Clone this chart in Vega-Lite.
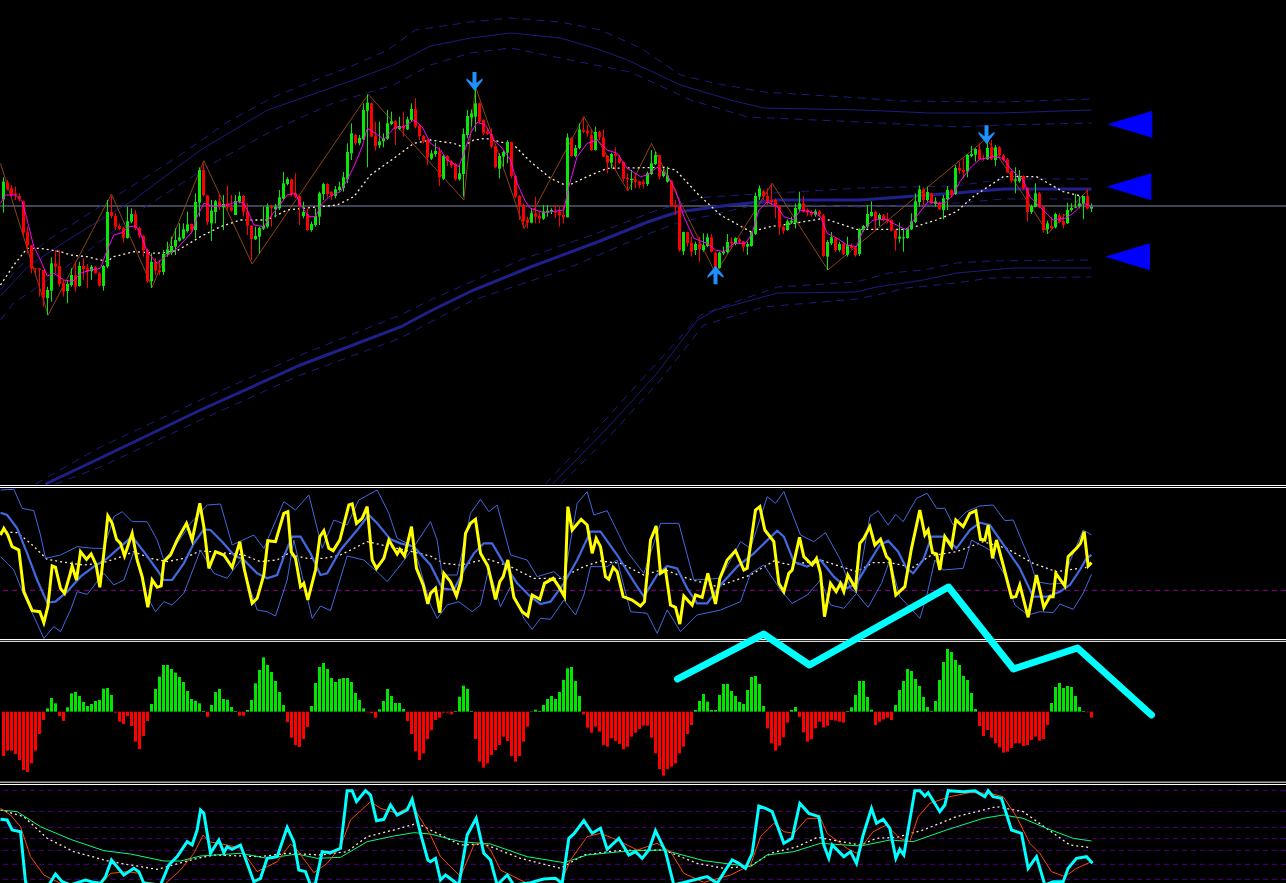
{"$schema":"https://vega.github.io/schema/vega-lite/v6.json","background":"#000000","padding":0,"spacing":0,"bounds":"flush","config":{"view":{"stroke":null},"scale":{"continuousPadding":0}},
"datasets":{
"bars":[{"t":9,"o":882,"h":948,"l":842,"c":935,"m":-133},{"t":21,"o":933,"h":940,"l":908,"c":912,"m":-117},{"t":33,"o":915,"h":925,"l":890,"c":895,"m":-117},{"t":45,"o":900,"h":920,"l":880,"c":895,"m":-127},{"t":57,"o":892,"h":900,"l":875,"c":884,"m":-145},{"t":69,"o":876,"h":878,"l":770,"c":782,"m":-175},{"t":81,"o":783,"h":800,"l":720,"c":744,"m":-181},{"t":93,"o":744,"h":745,"l":660,"c":674,"m":-155},{"t":105,"o":675,"h":675,"l":660,"c":672,"m":-117},{"t":117,"o":674,"h":675,"l":590,"c":670,"m":-67},{"t":129,"o":670,"h":670,"l":560,"c":588,"m":-25},{"t":141,"o":586,"h":620,"l":535,"c":610,"m":10},{"t":153,"o":608,"h":708,"l":575,"c":690,"m":41},{"t":165,"o":690,"h":730,"l":660,"c":680,"m":25},{"t":177,"o":682,"h":730,"l":620,"c":628,"m":-13},{"t":189,"o":630,"h":640,"l":590,"c":605,"m":-28},{"t":201,"o":607,"h":640,"l":570,"c":628,"m":13},{"t":213,"o":625,"h":675,"l":620,"c":655,"m":55},{"t":225,"o":654,"h":695,"l":605,"c":620,"m":59},{"t":237,"o":622,"h":695,"l":620,"c":682,"m":47},{"t":249,"o":682,"h":705,"l":640,"c":672,"m":29},{"t":261,"o":675,"h":688,"l":615,"c":665,"m":17},{"t":273,"o":666,"h":685,"l":640,"c":680,"m":23},{"t":285,"o":678,"h":682,"l":660,"c":660,"m":32},{"t":297,"o":660,"h":665,"l":620,"c":623,"m":35},{"t":309,"o":622,"h":685,"l":608,"c":682,"m":69},{"t":321,"o":680,"h":880,"l":675,"c":844,"m":71},{"t":333,"o":844,"h":892,"l":825,"c":832,"m":50},{"t":345,"o":832,"h":840,"l":790,"c":800,"m":-3},{"t":357,"o":802,"h":810,"l":790,"c":793,"m":-30},{"t":369,"o":795,"h":800,"l":752,"c":767,"m":-37},{"t":381,"o":766,"h":860,"l":764,"c":816,"m":-13},{"t":393,"o":815,"h":855,"l":810,"c":838,"m":-43},{"t":405,"o":838,"h":850,"l":790,"c":796,"m":-90},{"t":417,"o":796,"h":800,"l":765,"c":773,"m":-112},{"t":429,"o":772,"h":775,"l":710,"c":730,"m":-73},{"t":441,"o":730,"h":735,"l":632,"c":636,"m":-28},{"t":453,"o":636,"h":720,"l":616,"c":694,"m":23},{"t":465,"o":694,"h":705,"l":655,"c":668,"m":68},{"t":477,"o":670,"h":700,"l":655,"c":664,"m":105},{"t":489,"o":664,"h":730,"l":655,"c":718,"m":140},{"t":501,"o":718,"h":755,"l":710,"c":732,"m":140},{"t":513,"o":722,"h":770,"l":715,"c":742,"m":128},{"t":525,"o":740,"h":795,"l":715,"c":760,"m":117},{"t":537,"o":758,"h":810,"l":755,"c":768,"m":104},{"t":549,"o":765,"h":810,"l":762,"c":792,"m":89},{"t":561,"o":787,"h":845,"l":782,"c":807,"m":62},{"t":573,"o":808,"h":810,"l":780,"c":790,"m":38},{"t":585,"o":790,"h":900,"l":765,"c":874,"m":33},{"t":597,"o":872,"h":978,"l":830,"c":970,"m":25},{"t":609,"o":970,"h":990,"l":890,"c":894,"m":2},{"t":621,"o":894,"h":895,"l":805,"c":814,"m":-16},{"t":633,"o":810,"h":880,"l":757,"c":848,"m":20},{"t":645,"o":844,"h":880,"l":810,"c":876,"m":59},{"t":657,"o":876,"h":900,"l":850,"c":862,"m":68},{"t":669,"o":858,"h":895,"l":790,"c":868,"m":38},{"t":681,"o":870,"h":924,"l":850,"c":858,"m":36},{"t":693,"o":858,"h":895,"l":845,"c":848,"m":14},{"t":705,"o":835,"h":895,"l":835,"c":877,"m":2},{"t":717,"o":875,"h":905,"l":870,"c":892,"m":-12},{"t":729,"o":892,"h":895,"l":830,"c":845,"m":-12},{"t":741,"o":846,"h":870,"l":775,"c":803,"m":5},{"t":753,"o":803,"h":805,"l":700,"c":763,"m":35},{"t":765,"o":762,"h":800,"l":760,"c":772,"m":85},{"t":777,"o":770,"h":800,"l":720,"c":797,"m":125},{"t":789,"o":794,"h":860,"l":790,"c":802,"m":163},{"t":801,"o":800,"h":870,"l":795,"c":860,"m":140},{"t":813,"o":860,"h":865,"l":800,"c":855,"m":119},{"t":825,"o":852,"h":868,"l":828,"c":860,"m":92},{"t":837,"o":855,"h":910,"l":850,"c":888,"m":59},{"t":849,"o":884,"h":964,"l":880,"c":930,"m":20},{"t":861,"o":928,"h":948,"l":924,"c":943,"m":-31},{"t":873,"o":942,"h":945,"l":890,"c":897,"m":-78},{"t":885,"o":900,"h":960,"l":885,"c":890,"m":-100},{"t":897,"o":892,"h":895,"l":805,"c":862,"m":-106},{"t":909,"o":832,"h":875,"l":825,"c":844,"m":-82},{"t":921,"o":838,"h":855,"l":788,"c":790,"m":-46},{"t":933,"o":790,"h":815,"l":785,"c":808,"m":17},{"t":945,"o":805,"h":855,"l":800,"c":832,"m":86},{"t":957,"o":830,"h":905,"l":805,"c":900,"m":134},{"t":969,"o":898,"h":932,"l":880,"c":928,"m":146},{"t":981,"o":928,"h":930,"l":890,"c":898,"m":128},{"t":993,"o":904,"h":906,"l":880,"c":895,"m":101},{"t":1005,"o":892,"h":922,"l":885,"c":912,"m":89},{"t":1017,"o":910,"h":935,"l":905,"c":920,"m":98},{"t":1029,"o":916,"h":964,"l":905,"c":948,"m":101},{"t":1041,"o":942,"h":1050,"l":930,"c":1024,"m":101},{"t":1053,"o":1020,"h":1110,"l":1000,"c":1080,"m":89},{"t":1065,"o":1075,"h":1078,"l":1045,"c":1050,"m":56},{"t":1077,"o":1050,"h":1075,"l":1044,"c":1066,"m":35},{"t":1089,"o":1062,"h":1170,"l":1060,"c":1150,"m":10},{"t":1101,"o":1148,"h":1197,"l":978,"c":1172,"m":-2},{"t":1113,"o":1170,"h":1172,"l":1068,"c":1070,"m":-4},{"t":1125,"o":1072,"h":1115,"l":1028,"c":1042,"m":-18},{"t":1137,"o":1044,"h":1115,"l":1035,"c":1056,"m":7},{"t":1149,"o":1056,"h":1080,"l":1038,"c":1066,"m":32},{"t":1161,"o":1064,"h":1150,"l":1060,"c":1110,"m":68},{"t":1173,"o":1108,"h":1145,"l":1105,"c":1116,"m":47},{"t":1185,"o":1116,"h":1120,"l":1045,"c":1094,"m":26},{"t":1197,"o":1093,"h":1130,"l":1090,"c":1102,"m":26},{"t":1209,"o":1102,"h":1145,"l":1070,"c":1094,"m":8},{"t":1221,"o":1092,"h":1130,"l":1090,"c":1122,"m":-28},{"t":1233,"o":1120,"h":1170,"l":1115,"c":1153,"m":-67},{"t":1245,"o":1153,"h":1185,"l":1095,"c":1100,"m":-119},{"t":1257,"o":1102,"h":1105,"l":1060,"c":1072,"m":-145},{"t":1269,"o":1072,"h":1075,"l":1050,"c":1056,"m":-125},{"t":1281,"o":1060,"h":1062,"l":985,"c":1008,"m":-82},{"t":1293,"o":1004,"h":1030,"l":1000,"c":1020,"m":-55},{"t":1305,"o":1018,"h":1052,"l":1010,"c":1027,"m":-25},{"t":1317,"o":1026,"h":1038,"l":922,"c":948,"m":-18},{"t":1329,"o":944,"h":1015,"l":940,"c":1012,"m":-3},{"t":1341,"o":1012,"h":1015,"l":982,"c":997,"m":-3},{"t":1353,"o":996,"h":1000,"l":975,"c":984,"m":-8},{"t":1365,"o":987,"h":990,"l":938,"c":942,"m":2},{"t":1377,"o":942,"h":985,"l":938,"c":960,"m":45},{"t":1389,"o":958,"h":1095,"l":890,"c":1078,"m":78},{"t":1401,"o":1075,"h":1150,"l":1065,"c":1132,"m":68},{"t":1413,"o":1128,"h":1152,"l":1100,"c":1140,"m":2},{"t":1425,"o":1130,"h":1230,"l":1085,"c":1170,"m":-82},{"t":1437,"o":1170,"h":1172,"l":1110,"c":1115,"m":-150},{"t":1449,"o":1120,"h":1122,"l":1075,"c":1080,"m":-168},{"t":1461,"o":1085,"h":1095,"l":1075,"c":1078,"m":-155},{"t":1473,"o":1078,"h":1095,"l":1035,"c":1040,"m":-130},{"t":1485,"o":1042,"h":1042,"l":975,"c":978,"m":-115},{"t":1497,"o":974,"h":1020,"l":945,"c":1012,"m":-100},{"t":1509,"o":1010,"h":1030,"l":980,"c":1024,"m":-75},{"t":1521,"o":1022,"h":1060,"l":990,"c":1054,"m":-88},{"t":1533,"o":1054,"h":1055,"l":945,"c":952,"m":-133},{"t":1545,"o":952,"h":955,"l":885,"c":890,"m":-150},{"t":1557,"o":892,"h":895,"l":820,"c":862,"m":-133},{"t":1569,"o":864,"h":870,"l":795,"c":816,"m":-90},{"t":1581,"o":820,"h":830,"l":795,"c":812,"m":-45},{"t":1593,"o":812,"h":855,"l":810,"c":840,"m":1},{"t":1605,"o":840,"h":890,"l":810,"c":830,"m":6},{"t":1617,"o":832,"h":845,"l":810,"c":824,"m":2},{"t":1629,"o":824,"h":865,"l":820,"c":846,"m":20},{"t":1641,"o":842,"h":865,"l":830,"c":848,"m":38},{"t":1653,"o":844,"h":855,"l":838,"c":850,"m":47},{"t":1665,"o":846,"h":865,"l":825,"c":842,"m":38},{"t":1677,"o":844,"h":860,"l":800,"c":834,"m":59},{"t":1689,"o":835,"h":865,"l":810,"c":828,"m":95},{"t":1701,"o":828,"h":1080,"l":828,"c":1068,"m":130},{"t":1713,"o":1066,"h":1068,"l":1010,"c":1012,"m":134},{"t":1725,"o":1012,"h":1045,"l":1008,"c":1036,"m":92},{"t":1737,"o":1036,"h":1110,"l":1032,"c":1092,"m":47},{"t":1749,"o":1090,"h":1130,"l":1080,"c":1085,"m":-8},{"t":1761,"o":1088,"h":1105,"l":1070,"c":1080,"m":-48},{"t":1773,"o":1075,"h":1090,"l":1028,"c":1030,"m":-63},{"t":1785,"o":1030,"h":1100,"l":1028,"c":1084,"m":-45},{"t":1797,"o":1084,"h":1088,"l":1060,"c":1068,"m":-60},{"t":1809,"o":1068,"h":1092,"l":1008,"c":1010,"m":-100},{"t":1821,"o":1012,"h":1015,"l":960,"c":992,"m":-105},{"t":1833,"o":992,"h":1022,"l":975,"c":1018,"m":-80},{"t":1845,"o":1018,"h":1038,"l":970,"c":1012,"m":-88},{"t":1857,"o":1008,"h":1015,"l":988,"c":992,"m":-97},{"t":1869,"o":994,"h":995,"l":935,"c":944,"m":-113},{"t":1881,"o":946,"h":960,"l":908,"c":942,"m":-105},{"t":1893,"o":940,"h":970,"l":910,"c":944,"m":-75},{"t":1905,"o":942,"h":960,"l":915,"c":935,"m":-63},{"t":1917,"o":936,"h":938,"l":915,"c":925,"m":-52},{"t":1929,"o":935,"h":942,"l":915,"c":928,"m":-42},{"t":1941,"o":928,"h":965,"l":922,"c":960,"m":-42},{"t":1953,"o":958,"h":1030,"l":955,"c":990,"m":-78},{"t":1965,"o":988,"h":1025,"l":985,"c":1015,"m":-125},{"t":1977,"o":1014,"h":1016,"l":942,"c":950,"m":-172},{"t":1989,"o":952,"h":975,"l":948,"c":965,"m":-192},{"t":2001,"o":935,"h":980,"l":932,"c":954,"m":-172},{"t":2013,"o":938,"h":940,"l":860,"c":862,"m":-165},{"t":2025,"o":864,"h":880,"l":835,"c":858,"m":-155},{"t":2037,"o":860,"h":862,"l":725,"c":730,"m":-125},{"t":2049,"o":726,"h":785,"l":715,"c":784,"m":-105},{"t":2061,"o":784,"h":785,"l":740,"c":750,"m":-67},{"t":2073,"o":752,"h":770,"l":710,"c":725,"m":-40},{"t":2085,"o":730,"h":755,"l":715,"c":748,"m":5},{"t":2097,"o":748,"h":770,"l":695,"c":732,"m":32},{"t":2109,"o":730,"h":780,"l":725,"c":744,"m":53},{"t":2121,"o":742,"h":780,"l":738,"c":768,"m":30},{"t":2133,"o":768,"h":778,"l":722,"c":725,"m":5},{"t":2145,"o":722,"h":725,"l":660,"c":676,"m":5},{"t":2157,"o":676,"h":725,"l":674,"c":722,"m":50},{"t":2169,"o":720,"h":740,"l":715,"c":726,"m":83},{"t":2181,"o":724,"h":778,"l":720,"c":754,"m":83},{"t":2193,"o":755,"h":768,"l":735,"c":750,"m":62},{"t":2205,"o":748,"h":768,"l":744,"c":766,"m":47},{"t":2217,"o":762,"h":767,"l":752,"c":754,"m":29},{"t":2229,"o":756,"h":757,"l":725,"c":740,"m":23},{"t":2241,"o":740,"h":755,"l":715,"c":748,"m":65},{"t":2253,"o":742,"h":785,"l":740,"c":784,"m":104},{"t":2265,"o":778,"h":902,"l":775,"c":892,"m":107},{"t":2277,"o":890,"h":924,"l":880,"c":915,"m":83},{"t":2289,"o":906,"h":910,"l":880,"c":892,"m":17},{"t":2301,"o":892,"h":915,"l":865,"c":876,"m":-50},{"t":2313,"o":880,"h":930,"l":860,"c":874,"m":-95},{"t":2325,"o":880,"h":885,"l":825,"c":860,"m":-117},{"t":2337,"o":862,"h":865,"l":775,"c":798,"m":-102},{"t":2349,"o":800,"h":802,"l":778,"c":788,"m":-77},{"t":2361,"o":790,"h":822,"l":788,"c":816,"m":-33},{"t":2373,"o":812,"h":830,"l":808,"c":818,"m":5},{"t":2385,"o":812,"h":870,"l":795,"c":856,"m":14},{"t":2397,"o":852,"h":905,"l":845,"c":870,"m":-16},{"t":2409,"o":870,"h":892,"l":842,"c":845,"m":-62},{"t":2421,"o":850,"h":855,"l":832,"c":842,"m":-90},{"t":2433,"o":844,"h":850,"l":830,"c":836,"m":-83},{"t":2445,"o":836,"h":852,"l":830,"c":846,"m":-50},{"t":2457,"o":846,"h":850,"l":830,"c":836,"m":-30},{"t":2469,"o":834,"h":838,"l":708,"c":712,"m":-47},{"t":2481,"o":710,"h":760,"l":670,"c":754,"m":-42},{"t":2493,"o":750,"h":784,"l":745,"c":768,"m":-25},{"t":2505,"o":765,"h":770,"l":725,"c":730,"m":-27},{"t":2517,"o":730,"h":755,"l":725,"c":748,"m":-30},{"t":2529,"o":748,"h":750,"l":715,"c":718,"m":-33},{"t":2541,"o":716,"h":770,"l":710,"c":744,"m":2},{"t":2553,"o":742,"h":750,"l":732,"c":736,"m":13},{"t":2565,"o":738,"h":740,"l":710,"c":715,"m":50},{"t":2577,"o":718,"h":795,"l":712,"c":792,"m":92},{"t":2589,"o":790,"h":805,"l":785,"c":802,"m":92},{"t":2601,"o":800,"h":865,"l":795,"c":838,"m":44},{"t":2613,"o":832,"h":876,"l":830,"c":844,"m":6},{"t":2625,"o":844,"h":848,"l":790,"c":822,"m":-40},{"t":2637,"o":822,"h":840,"l":802,"c":835,"m":-30},{"t":2649,"o":834,"h":838,"l":815,"c":820,"m":-23},{"t":2661,"o":822,"h":842,"l":810,"c":816,"m":-18},{"t":2673,"o":820,"h":822,"l":785,"c":788,"m":-25},{"t":2685,"o":790,"h":792,"l":728,"c":764,"m":20},{"t":2697,"o":764,"h":812,"l":752,"c":770,"m":65},{"t":2709,"o":765,"h":796,"l":725,"c":768,"m":92},{"t":2721,"o":766,"h":797,"l":764,"c":795,"m":128},{"t":2733,"o":792,"h":840,"l":790,"c":816,"m":122},{"t":2745,"o":814,"h":900,"l":810,"c":876,"m":98},{"t":2757,"o":874,"h":924,"l":860,"c":912,"m":77},{"t":2769,"o":912,"h":918,"l":865,"c":880,"m":44},{"t":2781,"o":880,"h":920,"l":875,"c":904,"m":14},{"t":2793,"o":900,"h":902,"l":868,"c":870,"m":2},{"t":2805,"o":868,"h":888,"l":860,"c":876,"m":32},{"t":2817,"o":872,"h":875,"l":850,"c":852,"m":95},{"t":2829,"o":850,"h":895,"l":822,"c":885,"m":149},{"t":2841,"o":882,"h":922,"l":850,"c":910,"m":188},{"t":2853,"o":910,"h":912,"l":888,"c":896,"m":179},{"t":2865,"o":898,"h":985,"l":895,"c":976,"m":155},{"t":2877,"o":976,"h":994,"l":958,"c":968,"m":140},{"t":2889,"o":970,"h":1005,"l":945,"c":965,"m":107},{"t":2901,"o":965,"h":1018,"l":948,"c":1015,"m":95},{"t":2913,"o":1012,"h":1042,"l":1008,"c":1018,"m":56},{"t":2925,"o":1016,"h":1035,"l":995,"c":1033,"m":8},{"t":2937,"o":1032,"h":1050,"l":1000,"c":1002,"m":-43},{"t":2949,"o":1006,"h":1016,"l":998,"c":1002,"m":-73},{"t":2961,"o":1002,"h":1065,"l":1000,"c":1036,"m":-55},{"t":2973,"o":1038,"h":1060,"l":1000,"c":1002,"m":-78},{"t":2985,"o":1000,"h":1045,"l":982,"c":1038,"m":-95},{"t":2997,"o":1038,"h":1042,"l":1010,"c":1015,"m":-107},{"t":3009,"o":1014,"h":1018,"l":995,"c":1000,"m":-123},{"t":3021,"o":1002,"h":1006,"l":960,"c":964,"m":-120},{"t":3033,"o":966,"h":968,"l":932,"c":938,"m":-109},{"t":3045,"o":938,"h":978,"l":900,"c":942,"m":-95},{"t":3057,"o":936,"h":970,"l":932,"c":952,"m":-95},{"t":3069,"o":952,"h":954,"l":910,"c":915,"m":-103},{"t":3081,"o":916,"h":918,"l":816,"c":844,"m":-100},{"t":3093,"o":844,"h":866,"l":838,"c":862,"m":-85},{"t":3105,"o":860,"h":930,"l":858,"c":900,"m":-75},{"t":3117,"o":900,"h":904,"l":855,"c":858,"m":-87},{"t":3129,"o":860,"h":862,"l":782,"c":790,"m":-82},{"t":3141,"o":792,"h":818,"l":778,"c":810,"m":-40},{"t":3153,"o":802,"h":828,"l":792,"c":796,"m":26},{"t":3165,"o":798,"h":842,"l":795,"c":838,"m":74},{"t":3177,"o":834,"h":840,"l":810,"c":814,"m":86},{"t":3189,"o":816,"h":838,"l":795,"c":805,"m":71},{"t":3201,"o":810,"h":872,"l":808,"c":850,"m":77},{"t":3213,"o":850,"h":870,"l":845,"c":856,"m":74},{"t":3225,"o":856,"h":898,"l":855,"c":858,"m":47},{"t":3237,"o":860,"h":892,"l":855,"c":870,"m":14},{"t":3249,"o":868,"h":892,"l":822,"c":892,"m":2},{"t":3261,"o":892,"h":912,"l":852,"c":854,"m":-2},{"t":3273,"o":854,"h":870,"l":844,"c":860,"m":-18}],
"magenta":[{"t":0,"v":870},{"t":15,"v":895},{"t":45,"v":895},{"t":65,"v":875},{"t":80,"v":820},{"t":100,"v":740},{"t":120,"v":700},{"t":140,"v":652},{"t":160,"v":660},{"t":190,"v":640},{"t":215,"v":635},{"t":240,"v":660},{"t":270,"v":670},{"t":300,"v":675},{"t":320,"v":730},{"t":340,"v":775},{"t":365,"v":782},{"t":385,"v":800},{"t":405,"v":802},{"t":420,"v":780},{"t":440,"v":725},{"t":470,"v":690},{"t":495,"v":710},{"t":530,"v":735},{"t":575,"v":785},{"t":590,"v":830},{"t":610,"v":870},{"t":640,"v":860},{"t":680,"v":865},{"t":710,"v":875},{"t":730,"v":870},{"t":745,"v":840},{"t":760,"v":805},{"t":790,"v":800},{"t":810,"v":830},{"t":830,"v":855},{"t":860,"v":895},{"t":885,"v":900},{"t":900,"v":865},{"t":925,"v":830},{"t":945,"v":830},{"t":965,"v":870},{"t":985,"v":890},{"t":1020,"v":905},{"t":1040,"v":940},{"t":1060,"v":980},{"t":1085,"v":1040},{"t":1100,"v":1095},{"t":1125,"v":1080},{"t":1150,"v":1062},{"t":1180,"v":1095},{"t":1210,"v":1100},{"t":1240,"v":1120},{"t":1265,"v":1100},{"t":1290,"v":1050},{"t":1320,"v":1030},{"t":1340,"v":1000},{"t":1375,"v":980},{"t":1390,"v":1020},{"t":1410,"v":1080},{"t":1430,"v":1113},{"t":1455,"v":1105},{"t":1480,"v":1060},{"t":1505,"v":1035},{"t":1530,"v":1000},{"t":1550,"v":930},{"t":1575,"v":875},{"t":1590,"v":855},{"t":1630,"v":842},{"t":1690,"v":850},{"t":1705,"v":920},{"t":1730,"v":1010},{"t":1760,"v":1050},{"t":1790,"v":1060},{"t":1820,"v":1030},{"t":1850,"v":1020},{"t":1880,"v":975},{"t":1920,"v":950},{"t":1940,"v":955},{"t":1970,"v":978},{"t":2000,"v":955},{"t":2025,"v":910},{"t":2050,"v":830},{"t":2080,"v":765},{"t":2120,"v":750},{"t":2145,"v":730},{"t":2170,"v":725},{"t":2200,"v":750},{"t":2235,"v":750},{"t":2255,"v":780},{"t":2275,"v":850},{"t":2300,"v":875},{"t":2330,"v":860},{"t":2350,"v":830},{"t":2380,"v":820},{"t":2400,"v":850},{"t":2440,"v":842},{"t":2460,"v":830},{"t":2480,"v":780},{"t":2510,"v":765},{"t":2540,"v":745},{"t":2568,"v":740},{"t":2588,"v":790},{"t":2618,"v":820},{"t":2658,"v":822},{"t":2678,"v":810},{"t":2718,"v":790},{"t":2743,"v":825},{"t":2783,"v":875},{"t":2808,"v":870},{"t":2833,"v":870},{"t":2858,"v":895},{"t":2878,"v":935},{"t":2913,"v":980},{"t":2938,"v":1002},{"t":2978,"v":1010},{"t":3008,"v":1005},{"t":3033,"v":970},{"t":3068,"v":940},{"t":3088,"v":890},{"t":3118,"v":860},{"t":3158,"v":820},{"t":3193,"v":825},{"t":3218,"v":840},{"t":3248,"v":870},{"t":3278,"v":860}],
"maSlow":[{"t":0,"v":625},{"t":40,"v":685},{"t":80,"v":735},{"t":120,"v":735},{"t":180,"v":725},{"t":210,"v":715},{"t":260,"v":710},{"t":320,"v":695},{"t":340,"v":710},{"t":400,"v":725},{"t":470,"v":720},{"t":530,"v":728},{"t":600,"v":770},{"t":660,"v":800},{"t":720,"v":820},{"t":800,"v":820},{"t":860,"v":850},{"t":960,"v":860},{"t":1010,"v":865},{"t":1060,"v":890},{"t":1110,"v":955},{"t":1180,"v":1005},{"t":1240,"v":1050},{"t":1290,"v":1060},{"t":1360,"v":1050},{"t":1385,"v":1040},{"t":1420,"v":1060},{"t":1455,"v":1065},{"t":1540,"v":1045},{"t":1590,"v":995},{"t":1650,"v":945},{"t":1700,"v":922},{"t":1760,"v":950},{"t":1820,"v":975},{"t":1990,"v":978},{"t":2025,"v":970},{"t":2090,"v":900},{"t":2160,"v":835},{"t":2250,"v":785},{"t":2310,"v":800},{"t":2380,"v":810},{"t":2470,"v":825},{"t":2568,"v":792},{"t":2718,"v":792},{"t":2808,"v":820},{"t":2868,"v":845},{"t":2918,"v":890},{"t":3008,"v":950},{"t":3108,"v":950},{"t":3188,"v":905},{"t":3258,"v":888}],
"zigzag":[{"t":0,"v":990},{"t":143,"v":535},{"t":333,"v":898},{"t":455,"v":618},{"t":610,"v":998},{"t":755,"v":688},{"t":1103,"v":1197},{"t":1390,"v":880},{"t":1425,"v":1220},{"t":1571,"v":795},{"t":1750,"v":1130},{"t":1882,"v":907},{"t":1953,"v":1050},{"t":2145,"v":660},{"t":2315,"v":930},{"t":2482,"v":670},{"t":2958,"v":1065},{"t":3143,"v":780},{"t":3263,"v":912}],
"bandDash":[{"s":1,"t":0,"v":610},{"s":1,"t":39,"v":661},{"s":1,"t":129,"v":751},{"s":1,"t":249,"v":829},{"s":1,"t":390,"v":919},{"s":1,"t":531,"v":1009},{"s":1,"t":681,"v":1114},{"s":1,"t":819,"v":1189},{"s":1,"t":960,"v":1246},{"s":1,"t":1041,"v":1276},{"s":1,"t":1161,"v":1330},{"s":1,"t":1245,"v":1390},{"s":1,"t":1410,"v":1414},{"s":1,"t":1530,"v":1426},{"s":1,"t":1680,"v":1414},{"s":1,"t":1800,"v":1390},{"s":1,"t":1920,"v":1336},{"s":1,"t":2040,"v":1255},{"s":1,"t":2139,"v":1231},{"s":1,"t":2289,"v":1204},{"s":1,"t":2580,"v":1186},{"s":1,"t":2700,"v":1177},{"s":1,"t":3000,"v":1174},{"s":1,"t":3273,"v":1183},
{"s":2,"t":0,"v":520},{"s":2,"t":39,"v":571},{"s":2,"t":99,"v":610},{"s":2,"t":240,"v":709},{"s":2,"t":420,"v":850},{"s":2,"t":639,"v":991},{"s":2,"t":819,"v":1090},{"s":2,"t":999,"v":1171},{"s":2,"t":1179,"v":1225},{"s":2,"t":1290,"v":1285},{"s":2,"t":1410,"v":1321},{"s":2,"t":1530,"v":1336},{"s":2,"t":1710,"v":1300},{"s":2,"t":1890,"v":1264},{"s":2,"t":2070,"v":1180},{"s":2,"t":2241,"v":1129},{"s":2,"t":2580,"v":1114},{"s":2,"t":2880,"v":1099},{"s":2,"t":3000,"v":1105},{"s":2,"t":3273,"v":1111},
{"s":3,"t":105,"v":28},{"s":3,"t":300,"v":139},{"s":3,"t":600,"v":280},{"s":3,"t":900,"v":415},{"s":3,"t":1200,"v":535},{"s":3,"t":1290,"v":580},{"s":3,"t":1560,"v":700},{"s":3,"t":1791,"v":781},{"s":3,"t":1971,"v":850},{"s":3,"t":2121,"v":889},{"s":3,"t":2580,"v":916},{"s":3,"t":2868,"v":922},{"s":3,"t":3009,"v":943},{"s":3,"t":3264,"v":943},
{"s":4,"t":165,"v":28},{"s":4,"t":300,"v":79},{"s":4,"t":600,"v":220},{"s":4,"t":900,"v":355},{"s":4,"t":1200,"v":466},{"s":4,"t":1290,"v":514},{"s":4,"t":1419,"v":580},{"s":4,"t":1689,"v":670},{"s":4,"t":1950,"v":781},{"s":4,"t":2031,"v":811},{"s":4,"t":2289,"v":871},{"s":4,"t":2580,"v":859},{"s":4,"t":2868,"v":871},{"s":4,"t":3009,"v":883},{"s":4,"t":3273,"v":883},
{"s":5,"t":1635,"v":28},{"s":5,"t":1800,"v":205},{"s":5,"t":1950,"v":370},{"s":5,"t":2100,"v":535},{"s":5,"t":2220,"v":580},{"s":5,"t":2331,"v":619},{"s":5,"t":2568,"v":634},{"s":5,"t":2667,"v":661},{"s":5,"t":2769,"v":670},{"s":5,"t":2868,"v":691},{"s":5,"t":2967,"v":697},{"s":5,"t":3273,"v":700},
{"s":6,"t":1680,"v":28},{"s":6,"t":1830,"v":175},{"s":6,"t":1980,"v":340},{"s":6,"t":2109,"v":505},{"s":6,"t":2289,"v":559},{"s":6,"t":2568,"v":583},{"s":6,"t":2628,"v":595},{"s":6,"t":2718,"v":616},{"s":6,"t":2868,"v":631},{"s":6,"t":2967,"v":646},{"s":6,"t":3273,"v":649}],
"bandSolid":[{"s":1,"t":0,"v":592},{"s":1,"t":81,"v":679},{"s":1,"t":201,"v":760},{"s":1,"t":399,"v":880},{"s":1,"t":600,"v":1030},{"s":1,"t":801,"v":1150},{"s":1,"t":1059,"v":1240},{"s":1,"t":1179,"v":1285},{"s":1,"t":1290,"v":1342},{"s":1,"t":1410,"v":1366},{"s":1,"t":1530,"v":1381},{"s":1,"t":1680,"v":1366},{"s":1,"t":1800,"v":1330},{"s":1,"t":1881,"v":1300},{"s":1,"t":2040,"v":1225},{"s":1,"t":2190,"v":1180},{"s":1,"t":2289,"v":1156},{"s":1,"t":2580,"v":1150},{"s":1,"t":2790,"v":1141},{"s":1,"t":3000,"v":1141},{"s":1,"t":3273,"v":1150},
{"s":2,"t":1656,"v":28},{"s":2,"t":1815,"v":190},{"s":2,"t":1965,"v":355},{"s":2,"t":2091,"v":520},{"s":2,"t":2145,"v":550},{"s":2,"t":2331,"v":601},{"s":2,"t":2568,"v":604},{"s":2,"t":2628,"v":619},{"s":2,"t":2769,"v":640},{"s":2,"t":2868,"v":661},{"s":2,"t":3039,"v":676},{"s":2,"t":3273,"v":676}],
"bandThick":[{"t":135,"v":28},{"t":300,"v":106},{"t":600,"v":250},{"t":900,"v":385},{"t":1200,"v":499},{"t":1290,"v":547},{"t":1419,"v":610},{"t":1590,"v":679},{"t":1791,"v":754},{"t":1941,"v":814},{"t":2031,"v":844},{"t":2190,"v":865},{"t":2331,"v":880},{"t":2580,"v":880},{"t":2868,"v":901},{"t":3009,"v":913},{"t":3273,"v":913}],
"yellow":[{"t":0,"v":166},{"t":10,"v":186},{"t":22,"v":166},{"t":35,"v":131},{"t":55,"v":121},{"t":70,"v":-4},{"t":95,"v":-61},{"t":118,"v":-64},{"t":130,"v":-97},{"t":142,"v":-49},{"t":155,"v":73},{"t":165,"v":69},{"t":180,"v":6},{"t":192,"v":-9},{"t":208,"v":46},{"t":215,"v":73},{"t":228,"v":31},{"t":240,"v":116},{"t":258,"v":93},{"t":272,"v":109},{"t":287,"v":76},{"t":298,"v":9},{"t":310,"v":111},{"t":322,"v":223},{"t":335,"v":201},{"t":348,"v":153},{"t":360,"v":141},{"t":372,"v":103},{"t":395,"v":171},{"t":410,"v":91},{"t":425,"v":41},{"t":442,"v":-51},{"t":455,"v":31},{"t":470,"v":9},{"t":482,"v":13},{"t":490,"v":86},{"t":510,"v":106},{"t":530,"v":151},{"t":558,"v":201},{"t":575,"v":151},{"t":598,"v":261},{"t":610,"v":191},{"t":625,"v":66},{"t":645,"v":116},{"t":670,"v":106},{"t":695,"v":69},{"t":718,"v":146},{"t":732,"v":61},{"t":755,"v":-39},{"t":770,"v":-24},{"t":790,"v":46},{"t":802,"v":149},{"t":825,"v":146},{"t":850,"v":231},{"t":862,"v":236},{"t":872,"v":116},{"t":885,"v":96},{"t":900,"v":11},{"t":910,"v":21},{"t":922,"v":-29},{"t":945,"v":61},{"t":958,"v":161},{"t":970,"v":179},{"t":985,"v":126},{"t":998,"v":119},{"t":1018,"v":151},{"t":1045,"v":256},{"t":1055,"v":259},{"t":1068,"v":201},{"t":1085,"v":216},{"t":1100,"v":251},{"t":1115,"v":91},{"t":1128,"v":66},{"t":1150,"v":96},{"t":1165,"v":151},{"t":1190,"v":109},{"t":1198,"v":123},{"t":1212,"v":103},{"t":1233,"v":191},{"t":1248,"v":66},{"t":1268,"v":16},{"t":1282,"v":-41},{"t":1290,"v":-9},{"t":1305,"v":6},{"t":1318,"v":-67},{"t":1330,"v":51},{"t":1350,"v":26},{"t":1368,"v":-17},{"t":1382,"v":31},{"t":1395,"v":171},{"t":1410,"v":201},{"t":1425,"v":213},{"t":1440,"v":111},{"t":1462,"v":73},{"t":1485,"v":-27},{"t":1498,"v":26},{"t":1508,"v":41},{"t":1522,"v":91},{"t":1540,"v":-21},{"t":1565,"v":-64},{"t":1582,"v":-77},{"t":1595,"v":-14},{"t":1618,"v":-27},{"t":1632,"v":21},{"t":1658,"v":36},{"t":1675,"v":11},{"t":1692,"v":-19},{"t":1702,"v":251},{"t":1715,"v":181},{"t":1742,"v":213},{"t":1760,"v":196},{"t":1775,"v":111},{"t":1787,"v":156},{"t":1800,"v":131},{"t":1815,"v":41},{"t":1825,"v":33},{"t":1838,"v":69},{"t":1850,"v":56},{"t":1868,"v":-19},{"t":1895,"v":-29},{"t":1920,"v":-47},{"t":1932,"v":-34},{"t":1950,"v":151},{"t":1967,"v":193},{"t":1980,"v":51},{"t":1995,"v":61},{"t":2010,"v":-44},{"t":2025,"v":-51},{"t":2038,"v":-101},{"t":2050,"v":-17},{"t":2075,"v":-44},{"t":2085,"v":-14},{"t":2105,"v":-21},{"t":2122,"v":51},{"t":2145,"v":-41},{"t":2158,"v":36},{"t":2180,"v":91},{"t":2205,"v":119},{"t":2230,"v":61},{"t":2240,"v":66},{"t":2265,"v":241},{"t":2278,"v":251},{"t":2293,"v":181},{"t":2320,"v":146},{"t":2335,"v":21},{"t":2350,"v":-4},{"t":2365,"v":51},{"t":2375,"v":61},{"t":2397,"v":159},{"t":2410,"v":101},{"t":2435,"v":76},{"t":2448,"v":96},{"t":2460,"v":51},{"t":2472,"v":-79},{"t":2490,"v":21},{"t":2507,"v":-4},{"t":2520,"v":21},{"t":2530,"v":-4},{"t":2542,"v":46},{"t":2565,"v":6},{"t":2578,"v":141},{"t":2590,"v":156},{"t":2608,"v":191},{"t":2623,"v":136},{"t":2640,"v":153},{"t":2658,"v":101},{"t":2668,"v":91},{"t":2686,"v":-14},{"t":2713,"v":11},{"t":2733,"v":126},{"t":2758,"v":241},{"t":2773,"v":166},{"t":2783,"v":181},{"t":2796,"v":113},{"t":2808,"v":109},{"t":2818,"v":61},{"t":2833,"v":161},{"t":2853,"v":131},{"t":2866,"v":211},{"t":2888,"v":191},{"t":2908,"v":231},{"t":2926,"v":239},{"t":2940,"v":153},{"t":2953,"v":151},{"t":2963,"v":196},{"t":2976,"v":96},{"t":2988,"v":151},{"t":3008,"v":76},{"t":3033,"v":-21},{"t":3046,"v":-19},{"t":3058,"v":16},{"t":3083,"v":-81},{"t":3108,"v":46},{"t":3130,"v":-51},{"t":3148,"v":-19},{"t":3158,"v":-19},{"t":3166,"v":51},{"t":3193,"v":13},{"t":3203,"v":101},{"t":3228,"v":126},{"t":3240,"v":141},{"t":3251,"v":176},{"t":3263,"v":73},{"t":3273,"v":83}],
"bbMid":[{"t":0,"v":233},{"t":20,"v":226},{"t":50,"v":186},{"t":80,"v":111},{"t":110,"v":31},{"t":140,"v":-37},{"t":165,"v":-34},{"t":200,"v":-4},{"t":240,"v":41},{"t":280,"v":71},{"t":320,"v":96},{"t":360,"v":131},{"t":395,"v":161},{"t":430,"v":116},{"t":470,"v":61},{"t":490,"v":31},{"t":515,"v":31},{"t":550,"v":81},{"t":580,"v":141},{"t":610,"v":183},{"t":630,"v":181},{"t":665,"v":146},{"t":700,"v":106},{"t":730,"v":91},{"t":770,"v":51},{"t":800,"v":36},{"t":830,"v":46},{"t":850,"v":101},{"t":875,"v":161},{"t":900,"v":161},{"t":930,"v":111},{"t":960,"v":46},{"t":980,"v":51},{"t":1020,"v":121},{"t":1070,"v":181},{"t":1105,"v":226},{"t":1130,"v":201},{"t":1170,"v":153},{"t":1200,"v":141},{"t":1240,"v":131},{"t":1290,"v":76},{"t":1325,"v":6},{"t":1360,"v":1},{"t":1390,"v":61},{"t":1420,"v":111},{"t":1450,"v":141},{"t":1475,"v":141},{"t":1510,"v":81},{"t":1550,"v":21},{"t":1590,"v":-19},{"t":1620,"v":-41},{"t":1650,"v":-34},{"t":1690,"v":21},{"t":1730,"v":91},{"t":1770,"v":176},{"t":1800,"v":176},{"t":1850,"v":106},{"t":1900,"v":26},{"t":1930,"v":-19},{"t":1970,"v":46},{"t":2000,"v":73},{"t":2030,"v":66},{"t":2060,"v":6},{"t":2090,"v":-39},{"t":2120,"v":-39},{"t":2160,"v":16},{"t":2210,"v":71},{"t":2260,"v":111},{"t":2330,"v":179},{"t":2350,"v":161},{"t":2380,"v":86},{"t":2420,"v":71},{"t":2460,"v":91},{"t":2500,"v":41},{"t":2540,"v":6},{"t":2568,"v":21},{"t":2598,"v":71},{"t":2638,"v":136},{"t":2663,"v":149},{"t":2693,"v":116},{"t":2718,"v":66},{"t":2738,"v":51},{"t":2768,"v":91},{"t":2793,"v":161},{"t":2833,"v":161},{"t":2868,"v":126},{"t":2908,"v":181},{"t":2938,"v":203},{"t":2968,"v":196},{"t":3013,"v":131},{"t":3058,"v":66},{"t":3098,"v":-19},{"t":3138,"v":-19},{"t":3178,"v":-4},{"t":3208,"v":16},{"t":3238,"v":61},{"t":3258,"v":96},{"t":3273,"v":106}],
"bbUp":[{"t":0,"v":301},{"t":40,"v":303},{"t":65,"v":246},{"t":100,"v":239},{"t":120,"v":166},{"t":135,"v":96},{"t":180,"v":106},{"t":230,"v":131},{"t":280,"v":126},{"t":310,"v":126},{"t":340,"v":221},{"t":365,"v":236},{"t":395,"v":206},{"t":440,"v":206},{"t":470,"v":151},{"t":490,"v":91},{"t":520,"v":126},{"t":570,"v":201},{"t":620,"v":256},{"t":660,"v":259},{"t":695,"v":136},{"t":760,"v":166},{"t":790,"v":126},{"t":850,"v":266},{"t":885,"v":241},{"t":925,"v":286},{"t":965,"v":126},{"t":1000,"v":211},{"t":1040,"v":196},{"t":1075,"v":271},{"t":1130,"v":301},{"t":1165,"v":231},{"t":1190,"v":156},{"t":1240,"v":131},{"t":1290,"v":206},{"t":1310,"v":151},{"t":1325,"v":46},{"t":1370,"v":46},{"t":1410,"v":231},{"t":1440,"v":273},{"t":1465,"v":236},{"t":1490,"v":256},{"t":1530,"v":106},{"t":1580,"v":91},{"t":1610,"v":41},{"t":1660,"v":56},{"t":1690,"v":31},{"t":1730,"v":261},{"t":1760,"v":296},{"t":1780,"v":226},{"t":1820,"v":239},{"t":1880,"v":116},{"t":1930,"v":51},{"t":1980,"v":201},{"t":2035,"v":201},{"t":2080,"v":31},{"t":2160,"v":36},{"t":2220,"v":146},{"t":2250,"v":126},{"t":2300,"v":281},{"t":2325,"v":261},{"t":2350,"v":296},{"t":2400,"v":166},{"t":2440,"v":146},{"t":2475,"v":173},{"t":2520,"v":91},{"t":2550,"v":6},{"t":2568,"v":-9},{"t":2608,"v":221},{"t":2633,"v":239},{"t":2663,"v":196},{"t":2686,"v":228},{"t":2708,"v":206},{"t":2748,"v":276},{"t":2780,"v":291},{"t":2808,"v":246},{"t":2833,"v":246},{"t":2858,"v":196},{"t":2898,"v":236},{"t":2938,"v":253},{"t":2978,"v":256},{"t":3013,"v":209},{"t":3038,"v":211},{"t":3088,"v":91},{"t":3108,"v":26},{"t":3148,"v":19},{"t":3188,"v":21},{"t":3208,"v":86},{"t":3248,"v":181},{"t":3273,"v":166}],
"bbLow":[{"t":0,"v":101},{"t":40,"v":61},{"t":70,"v":-14},{"t":105,"v":-89},{"t":130,"v":-144},{"t":160,"v":-109},{"t":180,"v":-124},{"t":210,"v":-59},{"t":230,"v":-4},{"t":260,"v":-12},{"t":310,"v":51},{"t":340,"v":16},{"t":370,"v":31},{"t":400,"v":116},{"t":440,"v":-19},{"t":465,"v":-64},{"t":490,"v":-34},{"t":515,"v":-44},{"t":550,"v":-9},{"t":600,"v":121},{"t":640,"v":51},{"t":680,"v":36},{"t":720,"v":91},{"t":770,"v":-59},{"t":800,"v":-64},{"t":825,"v":-77},{"t":860,"v":31},{"t":880,"v":151},{"t":935,"v":-84},{"t":960,"v":-47},{"t":990,"v":-61},{"t":1040,"v":103},{"t":1090,"v":91},{"t":1135,"v":51},{"t":1160,"v":26},{"t":1200,"v":76},{"t":1240,"v":131},{"t":1290,"v":-44},{"t":1310,"v":-84},{"t":1340,"v":-44},{"t":1375,"v":-34},{"t":1415,"v":-64},{"t":1440,"v":-44},{"t":1465,"v":66},{"t":1500,"v":-49},{"t":1530,"v":11},{"t":1570,"v":-84},{"t":1595,"v":-117},{"t":1620,"v":-84},{"t":1650,"v":-87},{"t":1690,"v":-29},{"t":1725,"v":-74},{"t":1750,"v":-14},{"t":1770,"v":71},{"t":1820,"v":71},{"t":1850,"v":91},{"t":1890,"v":-64},{"t":1940,"v":-69},{"t":1970,"v":-129},{"t":2000,"v":-59},{"t":2040,"v":-124},{"t":2090,"v":-74},{"t":2160,"v":-59},{"t":2220,"v":-34},{"t":2250,"v":51},{"t":2290,"v":76},{"t":2340,"v":1},{"t":2375,"v":-39},{"t":2420,"v":-14},{"t":2460,"v":31},{"t":2490,"v":-44},{"t":2530,"v":-54},{"t":2568,"v":-9},{"t":2603,"v":-51},{"t":2643,"v":21},{"t":2668,"v":91},{"t":2698,"v":-19},{"t":2758,"v":-84},{"t":2778,"v":-19},{"t":2803,"v":91},{"t":2828,"v":61},{"t":2888,"v":66},{"t":2913,"v":151},{"t":2968,"v":121},{"t":3013,"v":46},{"t":3043,"v":-44},{"t":3083,"v":-74},{"t":3118,"v":-64},{"t":3158,"v":-67},{"t":3178,"v":-41},{"t":3218,"v":-57},{"t":3248,"v":-9},{"t":3273,"v":48}],
"rsiMa":[{"t":0,"v":176},{"t":50,"v":173},{"t":90,"v":141},{"t":140,"v":93},{"t":210,"v":81},{"t":250,"v":76},{"t":300,"v":81},{"t":350,"v":96},{"t":400,"v":116},{"t":450,"v":96},{"t":500,"v":86},{"t":550,"v":96},{"t":600,"v":119},{"t":680,"v":111},{"t":730,"v":106},{"t":780,"v":86},{"t":830,"v":91},{"t":860,"v":109},{"t":920,"v":96},{"t":970,"v":96},{"t":1020,"v":106},{"t":1100,"v":146},{"t":1190,"v":126},{"t":1290,"v":103},{"t":1330,"v":81},{"t":1380,"v":76},{"t":1460,"v":94},{"t":1530,"v":71},{"t":1600,"v":36},{"t":1680,"v":36},{"t":1750,"v":71},{"t":1800,"v":88},{"t":1860,"v":81},{"t":1930,"v":46},{"t":1990,"v":63},{"t":2060,"v":36},{"t":2150,"v":11},{"t":2250,"v":46},{"t":2320,"v":88},{"t":2370,"v":76},{"t":2460,"v":91},{"t":2568,"v":56},{"t":2618,"v":83},{"t":2668,"v":83},{"t":2738,"v":69},{"t":2788,"v":103},{"t":2868,"v":116},{"t":2948,"v":146},{"t":3018,"v":126},{"t":3098,"v":81},{"t":3168,"v":56},{"t":3258,"v":69}],
"cyan":[{"t":0,"v":282},{"t":20,"v":280},{"t":35,"v":250},{"t":60,"v":245},{"t":75,"v":95},{"t":80,"v":85},{"t":145,"v":85},{"t":165,"v":118},{"t":185,"v":95},{"t":210,"v":85},{"t":240,"v":95},{"t":255,"v":100},{"t":280,"v":93},{"t":300,"v":90},{"t":315,"v":110},{"t":333,"v":160},{"t":370,"v":115},{"t":400,"v":135},{"t":415,"v":125},{"t":430,"v":90},{"t":480,"v":85},{"t":505,"v":145},{"t":530,"v":170},{"t":560,"v":215},{"t":575,"v":205},{"t":590,"v":250},{"t":600,"v":310},{"t":610,"v":300},{"t":630,"v":180},{"t":655,"v":220},{"t":670,"v":182},{"t":680,"v":200},{"t":695,"v":192},{"t":720,"v":205},{"t":760,"v":95},{"t":780,"v":105},{"t":800,"v":165},{"t":830,"v":170},{"t":860,"v":258},{"t":880,"v":215},{"t":895,"v":130},{"t":915,"v":125},{"t":930,"v":85},{"t":945,"v":90},{"t":965,"v":185},{"t":990,"v":182},{"t":1020,"v":195},{"t":1040,"v":368},{"t":1055,"v":368},{"t":1068,"v":335},{"t":1095,"v":368},{"t":1110,"v":355},{"t":1128,"v":278},{"t":1150,"v":282},{"t":1170,"v":325},{"t":1190,"v":295},{"t":1220,"v":310},{"t":1235,"v":342},{"t":1260,"v":240},{"t":1282,"v":160},{"t":1290,"v":155},{"t":1305,"v":165},{"t":1320,"v":100},{"t":1335,"v":115},{"t":1355,"v":100},{"t":1375,"v":85},{"t":1400,"v":235},{"t":1427,"v":285},{"t":1450,"v":180},{"t":1470,"v":160},{"t":1490,"v":85},{"t":1520,"v":115},{"t":1540,"v":85},{"t":1590,"v":92},{"t":1630,"v":103},{"t":1665,"v":105},{"t":1685,"v":90},{"t":1705,"v":225},{"t":1720,"v":238},{"t":1750,"v":278},{"t":1775,"v":240},{"t":1800,"v":255},{"t":1820,"v":192},{"t":1855,"v":225},{"t":1885,"v":175},{"t":1905,"v":185},{"t":1925,"v":165},{"t":1945,"v":190},{"t":1965,"v":248},{"t":1995,"v":185},{"t":2020,"v":85},{"t":2120,"v":110},{"t":2150,"v":90},{"t":2175,"v":130},{"t":2195,"v":160},{"t":2215,"v":150},{"t":2235,"v":135},{"t":2255,"v":180},{"t":2275,"v":322},{"t":2295,"v":315},{"t":2315,"v":305},{"t":2350,"v":210},{"t":2375,"v":225},{"t":2398,"v":330},{"t":2425,"v":300},{"t":2455,"v":290},{"t":2470,"v":205},{"t":2485,"v":165},{"t":2495,"v":205},{"t":2530,"v":170},{"t":2550,"v":185},{"t":2568,"v":150},{"t":2588,"v":235},{"t":2613,"v":315},{"t":2628,"v":270},{"t":2648,"v":282},{"t":2668,"v":255},{"t":2686,"v":165},{"t":2698,"v":192},{"t":2710,"v":175},{"t":2743,"v":368},{"t":2758,"v":368},{"t":2773,"v":352},{"t":2783,"v":362},{"t":2818,"v":305},{"t":2833,"v":325},{"t":2843,"v":368},{"t":2888,"v":365},{"t":2923,"v":368},{"t":2953,"v":350},{"t":2963,"v":368},{"t":2978,"v":350},{"t":3003,"v":345},{"t":3033,"v":250},{"t":3063,"v":240},{"t":3083,"v":135},{"t":3108,"v":170},{"t":3133,"v":85},{"t":3158,"v":95},{"t":3188,"v":95},{"t":3203,"v":135},{"t":3228,"v":165},{"t":3258,"v":170},{"t":3276,"v":150}],
"orange":[{"t":0,"v":315},{"t":30,"v":295},{"t":60,"v":260},{"t":90,"v":170},{"t":130,"v":115},{"t":180,"v":90},{"t":300,"v":85},{"t":330,"v":120},{"t":380,"v":125},{"t":415,"v":120},{"t":430,"v":95},{"t":490,"v":85},{"t":540,"v":130},{"t":580,"v":180},{"t":608,"v":235},{"t":625,"v":215},{"t":680,"v":205},{"t":720,"v":195},{"t":770,"v":125},{"t":800,"v":140},{"t":830,"v":155},{"t":870,"v":208},{"t":890,"v":190},{"t":940,"v":122},{"t":980,"v":150},{"t":1020,"v":200},{"t":1050,"v":280},{"t":1110,"v":335},{"t":1140,"v":315},{"t":1190,"v":300},{"t":1235,"v":325},{"t":1290,"v":235},{"t":1320,"v":170},{"t":1380,"v":110},{"t":1420,"v":205},{"t":1445,"v":215},{"t":1470,"v":190},{"t":1500,"v":130},{"t":1580,"v":90},{"t":1680,"v":90},{"t":1710,"v":160},{"t":1760,"v":230},{"t":1800,"v":240},{"t":1850,"v":220},{"t":1910,"v":190},{"t":1970,"v":210},{"t":2010,"v":185},{"t":2050,"v":120},{"t":2110,"v":93},{"t":2190,"v":115},{"t":2250,"v":145},{"t":2280,"v":230},{"t":2320,"v":270},{"t":2350,"v":245},{"t":2380,"v":240},{"t":2420,"v":285},{"t":2460,"v":285},{"t":2480,"v":240},{"t":2540,"v":195},{"t":2568,"v":180},{"t":2618,"v":245},{"t":2658,"v":265},{"t":2698,"v":225},{"t":2728,"v":215},{"t":2753,"v":290},{"t":2788,"v":330},{"t":2848,"v":350},{"t":2908,"v":362},{"t":2968,"v":360},{"t":3008,"v":350},{"t":3048,"v":290},{"t":3088,"v":210},{"t":3118,"v":180},{"t":3153,"v":125},{"t":3193,"v":110},{"t":3228,"v":135},{"t":3273,"v":155}],
"green":[{"t":0,"v":310},{"t":50,"v":305},{"t":120,"v":260},{"t":210,"v":222},{"t":310,"v":188},{"t":390,"v":178},{"t":490,"v":157},{"t":540,"v":157},{"t":600,"v":172},{"t":720,"v":180},{"t":800,"v":165},{"t":890,"v":178},{"t":950,"v":165},{"t":1020,"v":168},{"t":1100,"v":215},{"t":1180,"v":232},{"t":1240,"v":242},{"t":1290,"v":238},{"t":1380,"v":215},{"t":1470,"v":208},{"t":1580,"v":170},{"t":1690,"v":152},{"t":1760,"v":175},{"t":1890,"v":188},{"t":1990,"v":190},{"t":2110,"v":158},{"t":2210,"v":145},{"t":2250,"v":140},{"t":2300,"v":175},{"t":2380,"v":185},{"t":2460,"v":210},{"t":2580,"v":202},{"t":2668,"v":220},{"t":2738,"v":215},{"t":2838,"v":250},{"t":2948,"v":285},{"t":3008,"v":295},{"t":3068,"v":285},{"t":3138,"v":255},{"t":3218,"v":225},{"t":3273,"v":217}],
"stochMa":[{"t":0,"v":310},{"t":70,"v":290},{"t":140,"v":225},{"t":220,"v":185},{"t":330,"v":155},{"t":470,"v":132},{"t":590,"v":165},{"t":640,"v":175},{"t":780,"v":170},{"t":860,"v":180},{"t":960,"v":175},{"t":1040,"v":185},{"t":1100,"v":230},{"t":1180,"v":250},{"t":1250,"v":270},{"t":1290,"v":250},{"t":1380,"v":205},{"t":1450,"v":208},{"t":1560,"v":165},{"t":1680,"v":135},{"t":1750,"v":175},{"t":1850,"v":188},{"t":1990,"v":190},{"t":2090,"v":150},{"t":2170,"v":135},{"t":2250,"v":142},{"t":2310,"v":180},{"t":2390,"v":200},{"t":2450,"v":228},{"t":2580,"v":205},{"t":2628,"v":225},{"t":2688,"v":228},{"t":2768,"v":250},{"t":2868,"v":290},{"t":2988,"v":320},{"t":3068,"v":305},{"t":3138,"v":255},{"t":3208,"v":205},{"t":3263,"v":198}],
"trend":[{"t":2031,"v":98},{"t":2289,"v":233},{"t":2427,"v":140},{"t":2844,"v":374},{"t":3039,"v":128},{"t":3231,"v":191},{"t":3453,"v":-10}],
"levels":[{"v":369},{"v":306},{"v":258},{"v":224},{"v":189},{"v":147},{"v":102}]},
"vconcat":[
{"width":1286,"height":486,"layer":[
{"data":{"values":[{"v":862}]},"mark":{"type":"rule","color":"#7f8aa8","strokeWidth":1,"clip":true},"encoding":{"y":{"field":"v","type":"quantitative","scale":{"domain":[22,1480]},"axis":null}}},
{"data":{"values":[{"v":23.5}]},"mark":{"type":"rule","color":"#ffffff","strokeWidth":1,"clip":true},"encoding":{"y":{"field":"v","type":"quantitative","scale":{"domain":[22,1480]},"axis":null}}},
{"encoding":{"x":{"field":"t","type":"quantitative","scale":{"domain":[-1.5,3856.5]},"axis":null},"y":{"field":"v","type":"quantitative","scale":{"domain":[22,1480]},"axis":null}},"layer":[
{"data":{"name":"bandDash"},"mark":{"type":"line","color":"#1c1c80","strokeWidth":1,"strokeDash":[8,6],"clip":true},"encoding":{"detail":{"field":"s"}}},
{"data":{"name":"bandSolid"},"mark":{"type":"line","color":"#1c1c80","strokeWidth":1,"clip":true},"encoding":{"detail":{"field":"s"}}},
{"data":{"name":"bandThick"},"mark":{"type":"line","color":"#20208c","strokeWidth":3,"clip":true}},
{"data":{"name":"zigzag"},"mark":{"type":"line","color":"#8B4513","strokeWidth":1,"clip":true}},
{"data":{"name":"maSlow"},"mark":{"type":"line","color":"#FFEBCD","strokeWidth":1.3,"strokeDash":[2,3],"clip":true}}]},
{"data":{"name":"bars"},"mark":{"type":"rule","strokeWidth":1},"encoding":{"x":{"field":"t","type":"quantitative","scale":{"domain":[-1.5,3856.5]},"axis":null},"y":{"field":"l","type":"quantitative","scale":{"domain":[22,1480]},"axis":null},"y2":{"field":"h"},"color":{"condition":{"test":"datum.c>=datum.o","value":"#0ae60a"},"value":"#ff0000"}}},
{"data":{"name":"bars"},"mark":{"type":"bar","orient":"vertical","size":3},"encoding":{"x":{"field":"t","type":"quantitative","scale":{"domain":[-1.5,3856.5]},"axis":null},"y":{"field":"o","type":"quantitative","scale":{"domain":[22,1480]},"axis":null},"y2":{"field":"c"},"color":{"condition":{"test":"datum.c>=datum.o","value":"#0ae60a"},"value":"#ff0000"}}},
{"data":{"name":"magenta"},"mark":{"type":"line","color":"#FF00FF","strokeWidth":1,"clip":true},"encoding":{"x":{"field":"t","type":"quantitative","scale":{"domain":[-1.5,3856.5]},"axis":null},"y":{"field":"v","type":"quantitative","scale":{"domain":[22,1480]},"axis":null}}},
{"data":{"values":[{"t":1422,"v":1236},{"t":2958,"v":1076}]},"mark":{"type":"point","filled":true,"opacity":1,"strokeWidth":0,"size":256,"color":"#1E90FF","shape":"M-0.25,-1.17 L0.25,-1.17 L0.25,0.2 L1,-0.37 L1,-0.1 L0,1.17 L-1,-0.1 L-1,-0.37 L-0.25,0.2 Z"},"encoding":{"x":{"field":"t","type":"quantitative","scale":{"domain":[-1.5,3856.5]},"axis":null},"y":{"field":"v","type":"quantitative","scale":{"domain":[22,1480]},"axis":null}}},
{"data":{"values":[{"t":2145,"v":655}]},"mark":{"type":"point","filled":true,"opacity":1,"strokeWidth":0,"size":256,"color":"#1E90FF","shape":"M-0.25,1.17 L0.25,1.17 L0.25,-0.2 L1,0.37 L1,0.1 L0,-1.17 L-1,0.1 L-1,0.37 L-0.25,-0.2 Z"},"encoding":{"x":{"field":"t","type":"quantitative","scale":{"domain":[-1.5,3856.5]},"axis":null},"y":{"field":"v","type":"quantitative","scale":{"domain":[22,1480]},"axis":null}}},
{"data":{"values":[{"t":3388,"v":1107},{"t":3385,"v":920},{"t":3381,"v":710}]},"mark":{"type":"point","filled":true,"opacity":1,"strokeWidth":0,"size":2025,"color":"#0000FF","shape":"M-1,0 L1,-0.6 L1,0.6 Z"},"encoding":{"x":{"field":"t","type":"quantitative","scale":{"domain":[-1.5,3856.5]},"axis":null},"y":{"field":"v","type":"quantitative","scale":{"domain":[22,1480]},"axis":null}}}
]},
{"width":1286,"height":154,"layer":[
{"data":{"values":[{"v":308.5},{"v":-147.5}]},"mark":{"type":"rule","color":"#ffffff","strokeWidth":1,"clip":true},"encoding":{"y":{"field":"v","type":"quantitative","scale":{"domain":[-149,313]},"axis":null}}},
{"data":{"values":[{"v":0}]},"mark":{"type":"rule","color":"#8B008B","strokeWidth":1,"strokeDash":[5,4],"clip":true},"encoding":{"y":{"field":"v","type":"quantitative","scale":{"domain":[-149,313]},"axis":null}}},
{"encoding":{"x":{"field":"t","type":"quantitative","scale":{"domain":[-1.5,3856.5]},"axis":null},"y":{"field":"v","type":"quantitative","scale":{"domain":[-149,313]},"axis":null}},"layer":[
{"data":{"name":"rsiMa"},"mark":{"type":"line","color":"#FFEBCD","strokeWidth":1.3,"strokeDash":[2,3],"clip":true}},
{"data":{"name":"bbUp"},"mark":{"type":"line","color":"#4169E1","strokeWidth":1,"clip":true}},
{"data":{"name":"bbLow"},"mark":{"type":"line","color":"#4169E1","strokeWidth":1,"clip":true}},
{"data":{"name":"bbMid"},"mark":{"type":"line","color":"#4169E1","strokeWidth":2.2,"clip":true}},
{"data":{"name":"yellow"},"mark":{"type":"line","color":"#FFFF00","strokeWidth":3,"clip":true}}]}
]},
{"width":1286,"height":143,"layer":[
{"data":{"values":[{"v":211},{"v":-211.5}]},"mark":{"type":"rule","color":"#ffffff","strokeWidth":1,"clip":true},"encoding":{"y":{"field":"v","type":"quantitative","scale":{"domain":[-214,215]},"axis":null}}},
{"data":{"name":"bars"},"mark":{"type":"bar","orient":"vertical","size":3},"encoding":{"x":{"field":"t","type":"quantitative","scale":{"domain":[-1.5,3856.5]},"axis":null},"y":{"field":"m","type":"quantitative","scale":{"domain":[-214,215]},"axis":null},"y2":{"datum":0},"color":{"condition":{"test":"datum.m>=0","value":"#00e600"},"value":"#ff0000"}}},
{"data":{"name":"trend"},"mark":{"type":"line","color":"#00FFFF","strokeWidth":7,"strokeCap":"round","strokeJoin":"round","clip":false},"encoding":{"x":{"field":"t","type":"quantitative","scale":{"domain":[-1.5,3856.5]},"axis":null},"y":{"field":"v","type":"quantitative","scale":{"domain":[-214,215]},"axis":null}}}
]},
{"width":1286,"height":100,"layer":[
{"data":{"values":[{"v":386.5}]},"mark":{"type":"rule","color":"#ffffff","strokeWidth":1,"clip":true},"encoding":{"y":{"field":"v","type":"quantitative","scale":{"domain":[91,391]},"axis":null}}},
{"data":{"name":"levels"},"mark":{"type":"rule","color":"#4B0082","strokeWidth":1,"strokeDash":[5,4],"clip":true},"encoding":{"y":{"field":"v","type":"quantitative","scale":{"domain":[91,391]},"axis":null}}},
{"encoding":{"x":{"field":"t","type":"quantitative","scale":{"domain":[-1.5,3856.5]},"axis":null},"y":{"field":"v","type":"quantitative","scale":{"domain":[91,391]},"axis":null}},"layer":[
{"data":{"name":"stochMa"},"mark":{"type":"line","color":"#FFEBCD","strokeWidth":1.3,"strokeDash":[2,3],"clip":true}},
{"data":{"name":"green"},"mark":{"type":"line","color":"#00FF7F","strokeWidth":1,"clip":true}},
{"data":{"name":"orange"},"mark":{"type":"line","color":"#FF4500","strokeWidth":1,"clip":true}},
{"data":{"name":"cyan"},"mark":{"type":"line","color":"#00FFFF","strokeWidth":3,"clip":true}}]}
]}
]}
